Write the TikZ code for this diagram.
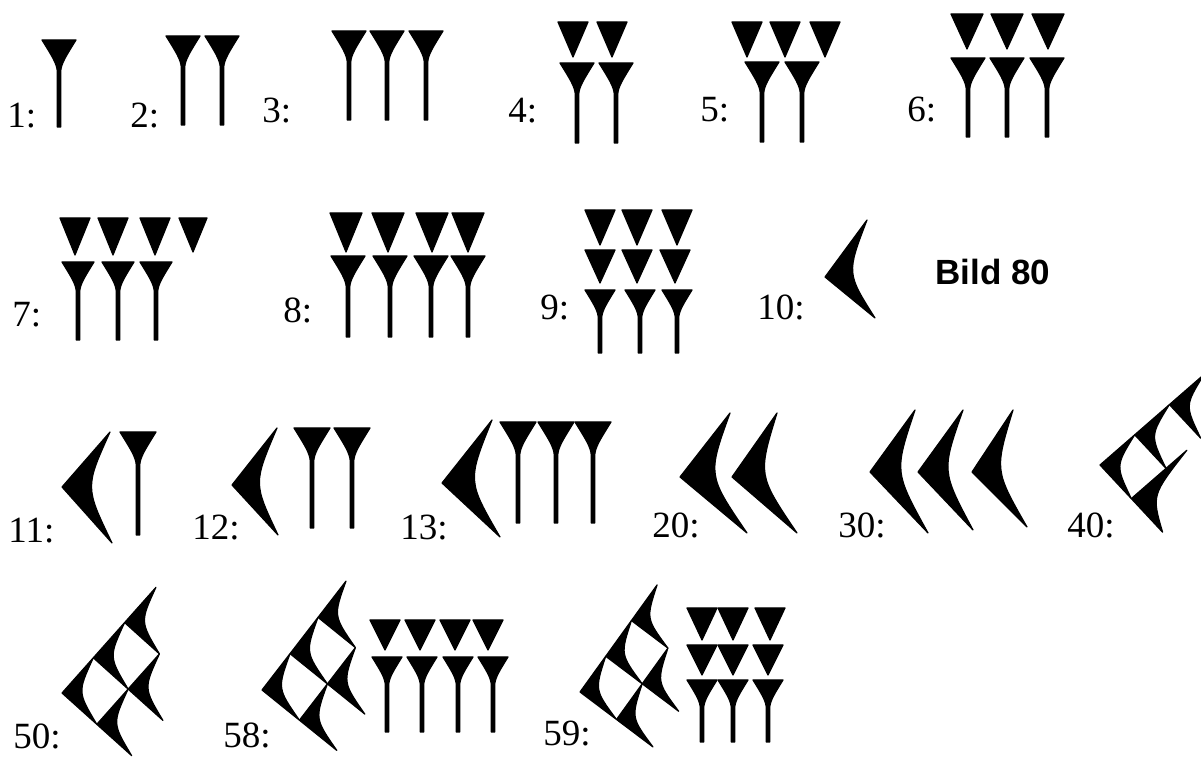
\documentclass[tikz,border=0pt]{standalone}
\usepackage{fontspec}
\setmainfont{Liberation Serif}
\newfontfamily\bildfont{Liberation Sans}
\usetikzlibrary{calc}

\tikzset{
  keil/.style={fill=black,draw=black,line width=0.6pt,line join=round},
  nummer/.style={anchor=base west,inner sep=0pt,font=\fontsize{18.5}{20}\selectfont}
}

\newcommand{\keil}[4][17]{\path[keil] (#2-#1,#3) -- (#2+#1,#3) .. controls (#2+0.45*#1,#3+0.9*#1) and (#2+1.7,#3+1.4*#1) .. (#2+1.7,#3+1.9*#1) -- (#2+1.7,#4) -- (#2-1.7,#4) -- (#2-1.7,#3+1.9*#1) .. controls (#2-1.7,#3+1.4*#1) and (#2-0.45*#1,#3+0.9*#1) .. cycle;}
\newcommand{\dreieck}[4][16]{\path[keil] (#2-#1,#3) -- (#2+#1,#3) -- (#2,#4) -- cycle;}
\newcommand{\winkel}[3]{\path[keil] (#1) -- (#2) .. controls ($0.53*(#1)+0.235*(#2)+0.235*(#3)$) .. (#3) -- cycle;}
\newcommand{\gitter}[1]{\foreach \i/\j in {#1} {\winkel{\i,\j}{\i+1,\j}{\i,\j+1}}}

\begin{document}
\begin{tikzpicture}[x=0.5pt,y=-0.5pt]
  \clip (0,0) rectangle (1201,758);

  \node[nummer] (n1) at (7,128) {1:};
  \keil{59}{40}{127}
  \node[nummer] (n2) at (130,128) {2:};
  \foreach \x in {183,222} {\keil{\x}{36}{125}}
  \node[nummer] (n3) at (262,123) {3:};
  \foreach \x in {349,387,426} {\keil{\x}{31}{120}}
  \node[nummer] (n4) at (508,123) {4:};
  \foreach \x in {573,612} {\dreieck[15]{\x}{22}{57}}
  \foreach \x in {577,616} {\keil{\x}{63}{143}}
  \node[nummer] (n5) at (700,122) {5:};
  \foreach \x in {747,785,825} {\dreieck[15]{\x}{22}{57}}
  \foreach \x in {762,802} {\keil{\x}{62}{142}}
  \node[nummer] (n6) at (907,122) {6:};
  \foreach \x in {967,1007,1048} {\dreieck{\x}{14}{49}}
  \foreach \x in {968,1007,1047} {\keil{\x}{58}{137}}

  \node[nummer] (n7) at (12,327) {7:};
  \foreach \x in {75,113,155} {\dreieck[15]{\x}{218}{255}}
  \dreieck[14]{193}{218}{252}
  \foreach \x in {78,118,156} {\keil[16]{\x}{262}{340}}
  \node[nummer] (n8) at (283,323) {8:};
  \foreach \x in {346,388,432,468} {\dreieck{\x}{213}{252}}
  \foreach \x in {348,390,431,468} {\keil{\x}{256}{337}}
  \node[nummer] (n9) at (540,320) {9:};
  \foreach \x in {600,637,677} {\dreieck[15]{\x}{210}{245}}
  \foreach \x in {600,637,675} {\dreieck[15]{\x}{250}{283}}
  \foreach \x in {600,640,677} {\keil[15]{\x}{290}{353}}
  \node[nummer] (n10) at (757,320) {10:};
  \winkel{825,277}{867,220}{875,318}
  \node[anchor=base west,inner sep=0pt,font=\bildfont\bfseries\fontsize{17.5}{20}\selectfont] (bild) at (935,285) {Bild 80};

  \node[nummer] (n11) at (8,543) {11:};
  \winkel{62,487}{110,432}{112,543}
  \keil[18]{138}{432}{535}
  \node[nummer] (n12) at (192,540) {12:};
  \winkel{232,485}{277,428}{278,535}
  \foreach \x in {312,352} {\keil[18]{\x}{428}{528}}
  \node[nummer] (n13) at (400,540) {13:};
  \winkel{442,483}{492,420}{500,537}
  \foreach \x in {518,556,593} {\keil[18]{\x}{422}{523}}
  \node[nummer] (n20) at (652,538) {20:};
  \winkel{680,477}{730,413}{747,533}
  \winkel{732,477}{777,413}{797,533}
  \node[nummer] (n30) at (838,538) {30:};
  \winkel{870,472}{915,410}{928,533}
  \winkel{918,472}{963,410}{973,530}
  \winkel{972,472}{1013,410}{1027,527}
  \node[nummer] (n40) at (1067,538) {40:};
  \begin{scope}[shift={(1100,465)},x={(17.35pt,15.1pt)},y={(15.65pt,-16.8pt)}]
    \gitter{0/0,1/0,2/0}
    \winkel{0,1}{1.6,1}{0,2}
  \end{scope}

  \node[nummer] (n50) at (13,749) {50:};
  \begin{scope}[shift={(62,693)},x={(15.65pt,17.6pt)},y={(17.4pt,-15.65pt)}]
    \gitter{0/0,1/0,2/0,0/1,1/1}
  \end{scope}
  \node[nummer] (n58) at (223,748) {58:};
  \begin{scope}[shift={(262,690)},x={(14pt,18.15pt)},y={(18.7pt,-15.1pt)}]
    \gitter{0/0,1/0,2/0,0/1,1/1}
  \end{scope}
  \foreach \x in {385,420,455,488} {\dreieck[15]{\x}{620}{650}}
  \foreach \x in {387,422,458,493} {\keil[15]{\x}{657}{732}}
  \node[nummer] (n59) at (543,746) {59:};
  \begin{scope}[shift={(580,692)},x={(12.85pt,17.85pt)},y={(18.25pt,-13.75pt)}]
    \gitter{0/0,1/0,2/0,0/1,1/1}
  \end{scope}
  \foreach \x in {702,733,770} {\dreieck[15]{\x}{608}{640}}
  \foreach \x in {702,733,768} {\dreieck[15]{\x}{645}{675}}
  \foreach \x in {702,733,768} {\keil[15]{\x}{680}{742}}
\end{tikzpicture}
\end{document}
